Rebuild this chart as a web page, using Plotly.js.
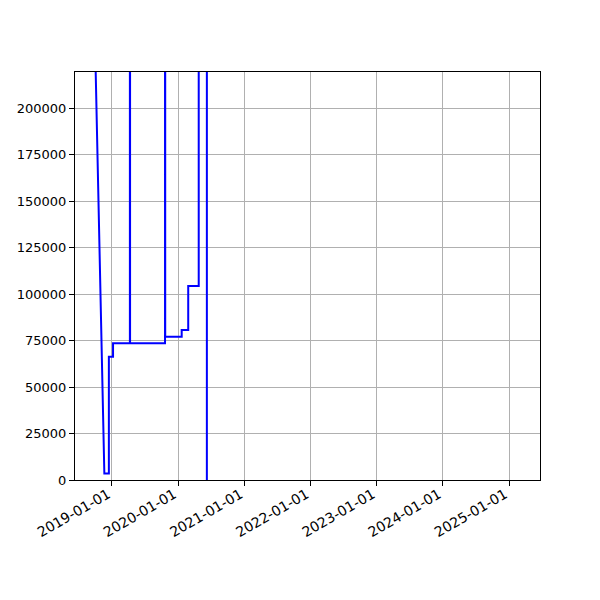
<!DOCTYPE html>
<html>
<head>
<meta charset="utf-8">
<script src="https://cdn.plot.ly/plotly-3.0.1.min.js"></script>
<style>html,body{margin:0;padding:0;background:#fff;}#chart{width:600px;height:600px;}</style>
</head>
<body>
<div id="chart"></div>
<script>
// Data
const dates = [
  '2018-10-02', '2018-11-20', '2018-12-15', '2018-12-15', '2019-01-07', '2019-01-07',
  '2019-04-10', '2019-04-10', '2019-04-11',
  '2019-10-21', '2019-10-21', '2019-10-22',
  '2020-01-21', '2020-01-21', '2020-02-26', '2020-02-26',
  '2020-04-24', '2020-04-24',
  '2020-06-08', '2020-06-08', '2020-06-09', '2025-02-08'
];
const values = [
  225000, 3500, 3500, 66300, 66300, 73500,
  73500, 5000000, 73500,
  73500, 5000000, 77000,
  77000, 80600, 80600, 104300,
  104300, 5000000,
  5000000, 0, 5000000, 5000000
];
const xTickVals = ['2019-01-01', '2020-01-01', '2021-01-01', '2022-01-01', '2023-01-01', '2024-01-01', '2025-01-01'];
const yTickVals = [0, 25000, 50000, 75000, 100000, 125000, 150000, 175000, 200000];

const trace = {
  x: dates,
  y: values,
  type: 'scatter',
  mode: 'lines',
  line: {color: '#0000ff', width: 2},
  hoverinfo: 'skip'
};

const font = {family: 'DejaVu Sans, sans-serif', size: 13, color: '#000'};
const xfont = {family: 'DejaVu Sans, sans-serif', size: 14, color: '#000'};

const layout = {
  width: 600,
  height: 600,
  margin: {l: 75, r: 60, t: 72, b: 120, pad: 0},
  paper_bgcolor: '#fff',
  plot_bgcolor: '#fff',
  showlegend: false,
  font: font,
  xaxis: {
    type: 'date',
    range: ['2018-06-11', '2025-06-21'],
    tickvals: xTickVals,
    ticktext: xTickVals,
    tickangle: -30,
    ticklabelshift: -4,
    ticklabelstandoff: -5,
    ticks: 'outside',
    ticklen: 5,
    tickwidth: 1,
    tickcolor: '#000',
    showgrid: true,
    gridcolor: '#b0b0b0',
    gridwidth: 1,
    showline: true,
    linecolor: '#000',
    linewidth: 1,
    mirror: true,
    zeroline: false,
    tickfont: xfont
  },
  yaxis: {
    range: [0, 219400],
    tickvals: yTickVals,
    ticktext: yTickVals.map(v => String(v)),
    ticks: 'outside',
    ticklen: 5,
    tickwidth: 1,
    tickcolor: '#000',
    showgrid: true,
    gridcolor: '#b0b0b0',
    gridwidth: 1,
    showline: true,
    linecolor: '#000',
    linewidth: 1,
    mirror: true,
    zeroline: false,
    tickfont: font
  }
};

Plotly.newPlot('chart', [trace], layout, {staticPlot: true, displayModeBar: false});
</script>
</body>
</html>
